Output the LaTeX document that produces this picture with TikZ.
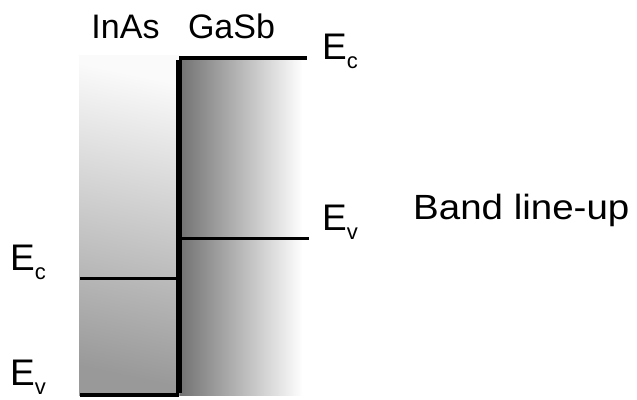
\documentclass[tikz,border=0pt]{standalone}
\usepackage{fontspec}
\setmainfont{Liberation Sans}
\begin{document}
\begin{tikzpicture}[x=1pt,y=-1pt,
  lbl/.style={inner sep=0pt,font=\fontsize{34}{36}\selectfont},
  elbl/.style={inner sep=0pt,anchor=base west,font=\fontsize{37}{40}\selectfont},
  band/.style={line width=3pt,black},
  thick band/.style={line width=4pt,black},
  junction/.style={line width=6pt,black}]
\newcommand{\subsc}[1]{\raisebox{-9pt}{\fontsize{22}{24}\selectfont #1}}
\useasboundingbox (0,0) rectangle (637,399);
% InAs region
\shade[top color=white!98!black,bottom color=black!40,shading angle=-12] (79,55) rectangle (180,395);
% GaSb region
\shade[left color=black!55,right color=white] (180,58) rectangle (303,395);
\fill[white] (302,58) rectangle (310,395);
% coordinates
\coordinate (inL_bot) at (80,395);
\coordinate (jn_bot) at (179,395);
\coordinate (jn_top) at (179,58);
\coordinate (gs_ec) at (307,58);
\coordinate (in_ec_l) at (80,278);
\coordinate (in_ec_r) at (178,278);
\coordinate (gs_ev_l) at (180,238);
\coordinate (gs_ev_r) at (309,238);
% band lines
\draw[thick band] (inL_bot) -- (jn_bot);
\draw[thick band] (jn_top) -- (gs_ec);
\draw[junction] ([yshift=2pt]jn_bot) -- ([yshift=-2pt]jn_top);
\draw[band] (in_ec_l) -- (in_ec_r);
\draw[band] (gs_ev_l) -- (gs_ev_r);
% labels
\node[lbl,anchor=base] (inas) at (125.5,38) {InAs};
\node[lbl,anchor=base] (gasb) at (231.5,38) {GaSb};
\node[elbl] (ecL) at (10,270) {E\subsc{c}};
\node[elbl] (evL) at (10,385) {E\subsc{v}};
\node[elbl] (ecR) at (322,59) {E\subsc{c}};
\node[elbl] (evR) at (322,230) {E\subsc{v}};
\node[inner sep=0pt,anchor=base west,font=\fontsize{35}{38}\selectfont,xscale=1.1,transform shape] (band) at (413,219) {Band line-up};
\end{tikzpicture}
\end{document}
